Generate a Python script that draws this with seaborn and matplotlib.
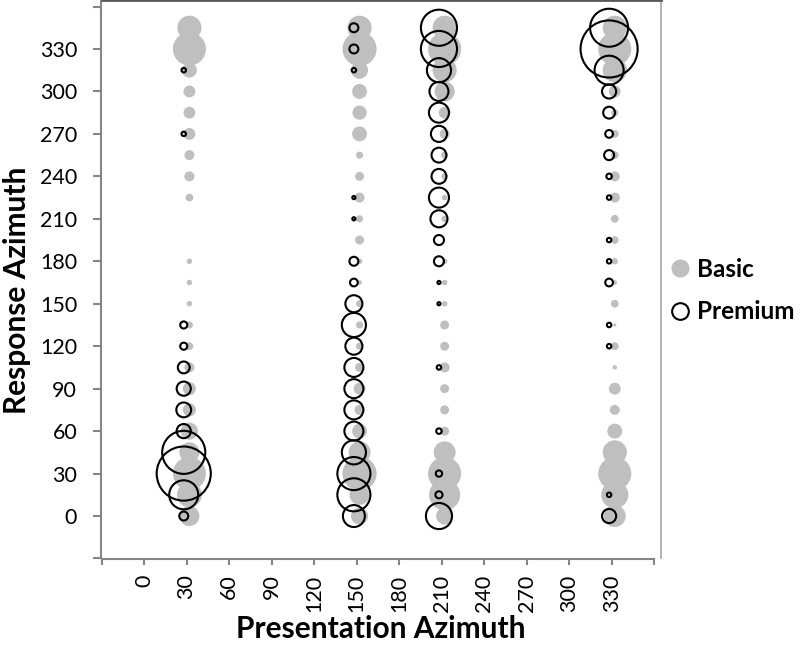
import numpy as np
import pandas as pd
import seaborn as sns
import matplotlib.pyplot as plt
from matplotlib.lines import Line2D

# response azimuths 0, 15, ..., 345
response_az = list(range(0, 360, 15))
presentation_az = [30, 150, 210, 330]

# response counts per response azimuth
basic_30 = [40, 62, 109, 40, 29, 17, 17, 10, 6, 5, 3, 3, 3, 0, 0, 6, 10, 10, 14, 14, 14, 22, 109, 58]
basic_150 = [29, 40, 116, 48, 22, 10, 14, 8, 5, 5, 5, 2, 3, 8, 5, 10, 8, 5, 22, 20, 22, 29, 116, 58]
basic_210 = [29, 96, 109, 48, 8, 8, 8, 10, 8, 8, 3, 3, 3, 0, 4, 3, 4, 5, 10, 14, 40, 58, 109, 58]
basic_330 = [48, 73, 109, 58, 22, 10, 14, 2, 6, 1, 6, 2, 4, 6, 6, 10, 10, 6, 6, 5, 14, 58, 109, 58]

premium_30 = [8, 84, 292, 185, 20, 22, 20, 14, 5, 5, 0, 0, 0, 0, 0, 0, 0, 0, 2, 0, 0, 2, 0, 0]
premium_150 = [48, 109, 109, 58, 36, 36, 36, 36, 29, 58, 29, 6, 8, 0, 1, 1, 0, 0, 0, 0, 0, 2, 8, 8]
premium_210 = [68, 5, 4, 0, 3, 0, 0, 2, 0, 0, 1, 1, 10, 10, 29, 40, 22, 22, 26, 40, 36, 58, 130, 130]
premium_330 = [20, 2, 0, 0, 0, 0, 0, 0, 2, 2, 0, 6, 2, 2, 0, 2, 3, 10, 6, 14, 20, 84, 325, 144]

tick_values = list(range(-30, 390, 30))
tick_labels = ["" if (v < 0 or v > 330) else str(v) for v in tick_values]

basic = {30: basic_30, 150: basic_150, 210: basic_210, 330: basic_330}
premium = {30: premium_30, 150: premium_150, 210: premium_210, 330: premium_330}

rows = []
for tier, table in [("Basic", basic), ("Premium", premium)]:
    for p in presentation_az:
        for r, n in zip(response_az, table[p]):
            rows.append({"tier": tier, "presentation": p, "response": r, "count": n})
df = pd.DataFrame(rows)
df = df[df["count"] > 0]

# small horizontal dodge so the two tiers sit side by side
dodge = {"Basic": 2.0, "Premium": -2.0}
df["x"] = df["presentation"] + df["tier"].map(dodge)

plt.rcParams["font.family"] = ["Lato", "DejaVu Sans"]

fig = plt.figure(figsize=(8, 6.45), dpi=100)
ax = fig.add_axes([101.5 / 800, 86.5 / 645, 559.5 / 800, 558.5 / 645])

pts_per_count = 5.2
lo, hi = df["count"].min(), df["count"].max()
size_kw = dict(size="count", size_norm=(lo, hi),
               sizes=(pts_per_count * lo, pts_per_count * hi), legend=False)

sns.scatterplot(data=df[df["tier"] == "Basic"], x="x", y="response",
                color="#bfbfbf", edgecolor="none", linewidth=0, ax=ax, zorder=2,
                **size_kw)
sns.scatterplot(data=df[df["tier"] == "Premium"], x="x", y="response",
                facecolor="none", edgecolor="black", linewidth=1.5, ax=ax,
                zorder=3, **size_kw)

ax.set_xlim(-30, 364.6)
ax.set_ylim(-30, 364.6)
ax.set_xticks(tick_values)
ax.set_xticklabels(tick_labels, rotation=90)
ax.set_yticks(tick_values)
ax.set_yticklabels(tick_labels)

ax.tick_params(axis="both", colors="#868686", labelcolor="black",
               labelsize=15.5, width=1.5)
ax.tick_params(axis="x", length=4.5, pad=7)
ax.tick_params(axis="y", length=5.5, pad=12)

for side in ["left", "bottom"]:
    ax.spines[side].set_color("#868686")
    ax.spines[side].set_linewidth(1.5)
ax.spines["right"].set_color("#a6a6a6")
ax.spines["right"].set_linewidth(1.2)
ax.spines["top"].set_color("#595959")
ax.spines["top"].set_linewidth(2)
ax.spines["bottom"].set_bounds(-30, 360)

ax.set_xlabel("Presentation Azimuth", fontsize=21.5, fontweight="bold")
ax.set_ylabel("Response Azimuth", fontsize=21.5, fontweight="bold")
ax.xaxis.set_label_coords(0.5, (558.5 - 615) / 558.5)
ax.yaxis.set_label_coords((31 - 101.5) / 559.5, (558.5 - 290) / 558.5)

handles = [
    Line2D([], [], marker="o", linestyle="", markersize=13,
           markerfacecolor="#bfbfbf", markeredgecolor="none", label="Basic"),
    Line2D([], [], marker="o", linestyle="", markersize=12,
           markerfacecolor="none", markeredgecolor="black",
           markeredgewidth=1.5, label="Premium"),
]
ax.legend(handles=handles, loc="center left", bbox_to_anchor=(1.0, 0.48),
          frameon=False, prop={"weight": "bold", "size": 17.5},
          handlelength=0.8, handletextpad=0.3, labelspacing=0.8,
          borderaxespad=0.0)

fig.savefig("out.png", dpi=100)
